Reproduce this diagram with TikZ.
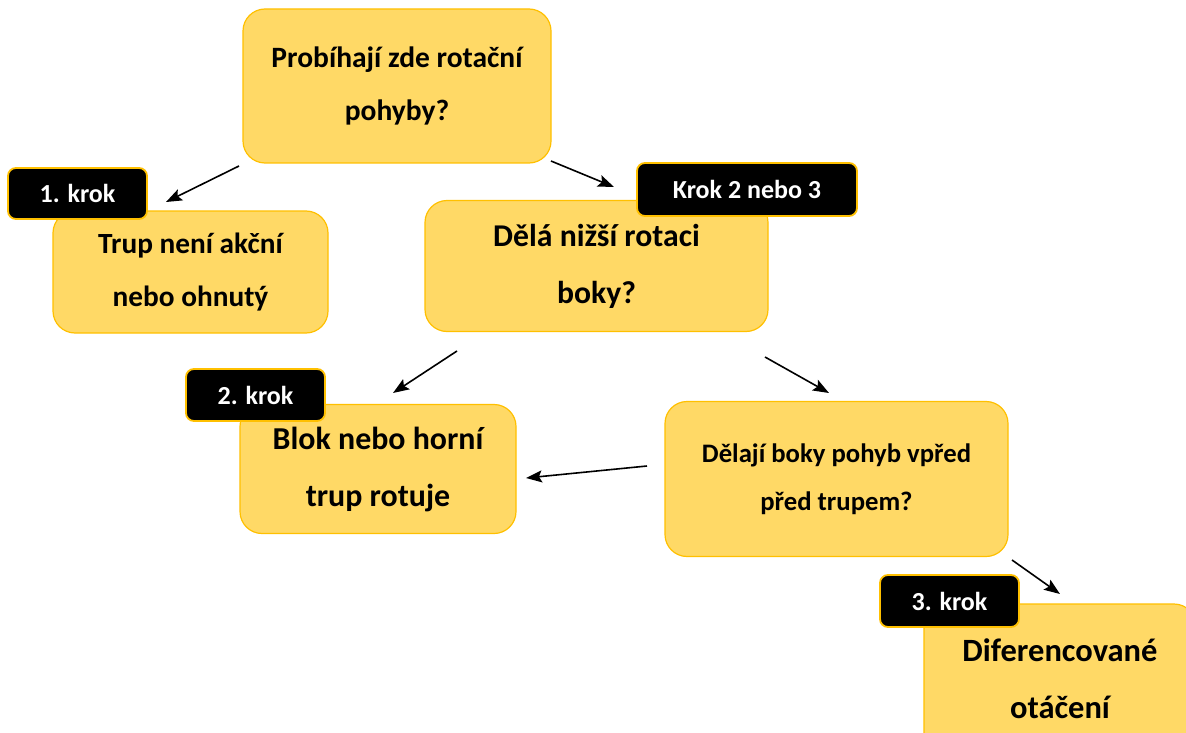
\documentclass[tikz,border=0pt]{standalone}
\usepackage{fontspec}
\setmainfont{Carlito}
\usetikzlibrary{arrows.meta}
\definecolor{boxfill}{HTML}{FFD966}
\definecolor{boxline}{HTML}{FFC000}
\begin{document}
\begin{tikzpicture}[x=1pt,y=-1pt,
 box/.style={draw=boxline, fill=boxfill, line width=1.2pt, rounded corners=22pt, align=center, font=\bfseries, inner sep=0pt},
 tag/.style={draw=boxline, fill=black, text=white, line width=1.8pt, rounded corners=8pt, font=\bfseries\fontsize{26}{30}\selectfont, inner sep=0pt},
 arr/.style={-{Stealth[length=16pt,width=12pt,inset=3pt]}, line width=1.6pt}]
\clip (0,0) rectangle (1186,733);
\fill[white] (0,0) rectangle (1186,733);
% boxes
\node[box, minimum width=308pt, minimum height=154pt, font=\bfseries\fontsize{29.5}{53}\selectfont] (A) at (397,86) {Probíhají zde rotační\\pohyby?};
\node[box, minimum width=275pt, minimum height=122pt, font=\bfseries\fontsize{29.3}{53}\selectfont] (B) at (190.5,272) {Trup není akční\\nebo ohnutý};
\node[box, minimum width=343pt, minimum height=131pt, font=\bfseries\fontsize{31.7}{57}\selectfont] (C) at (596.5,266) {Dělá nižší rotaci\\boky?};
\node[box, minimum width=276pt, minimum height=129pt, font=\bfseries\fontsize{31.9}{57}\selectfont] (D) at (378,469) {Blok nebo horní\\trup rotuje};
\node[box, minimum width=343pt, minimum height=155pt, font=\bfseries\fontsize{26.7}{48}\selectfont] (E) at (836.5,479) {Dělají boky pohyb vpřed\\před trupem?};
\node[box, minimum width=272pt, minimum height=150pt, font=\bfseries\fontsize{32.5}{57}\selectfont] (F) at (1060,679) {Diferencované\\otáčení};
% tags
\node[tag, minimum width=139pt, minimum height=51pt] (T1) at (77.5,193.5) {1. krok};
\node[tag, minimum width=220pt, minimum height=53pt] (T2) at (747,189.5) {Krok 2 nebo 3};
\node[tag, minimum width=139pt, minimum height=52pt] (T3) at (255.5,395) {2. krok};
\node[tag, minimum width=139pt, minimum height=52pt] (T4) at (949.5,601) {3. krok};
% arrow end points
\coordinate (a1) at (239,166); \coordinate (b1) at (166,202);
\coordinate (a2) at (551,161); \coordinate (c2) at (614,187);
\coordinate (c3) at (457,351); \coordinate (d3) at (393,393);
\coordinate (c4) at (765,357); \coordinate (e4) at (829,393);
\coordinate (e5) at (647,466); \coordinate (d5) at (526,478);
\coordinate (e6) at (1012,560); \coordinate (f6) at (1060,594);
\draw[arr] (a1) -- (b1);
\draw[arr] (a2) -- (c2);
\draw[arr] (c3) -- (d3);
\draw[arr] (c4) -- (e4);
\draw[arr] (e5) -- (d5);
\draw[arr] (e6) -- (f6);
\end{tikzpicture}
\end{document}
